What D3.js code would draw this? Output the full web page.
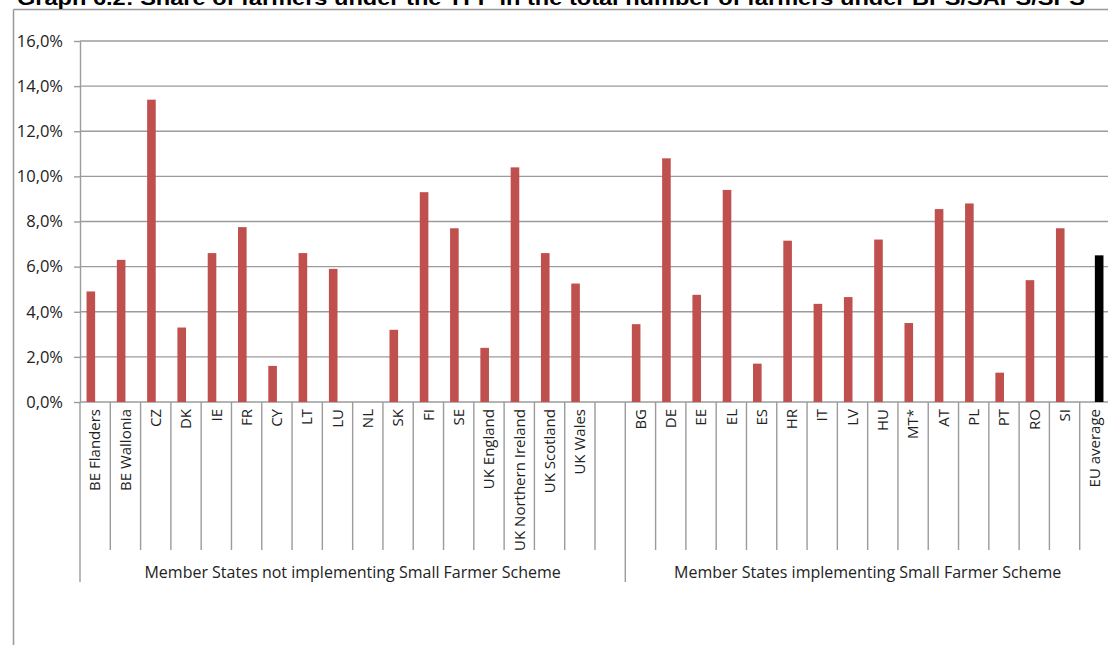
<!DOCTYPE html>
<html>
<head>
<meta charset="utf-8">
<script src="https://cdn.jsdelivr.net/npm/d3@7"></script>
<style>
  html, body { margin: 0; padding: 0; background: #fff; }
  svg { display: block; }
  text { font-family: "Open Sans", "DejaVu Sans", sans-serif; fill: #222; }
</style>
</head>
<body>
<svg id="chart" width="1108" height="645"></svg>
<script>
// Graph 6.2 – share of YFP farmers among farmers under BPS/SAPS/SPS (%)
const titleText = "Graph 6.2: Share of farmers under the YFP in the total number of farmers under BPS/SAPS/SPS";

// Member States not implementing the Small Farmer Scheme (last slot left empty as a spacer)
const groupNotSFS = ["BE Flanders", "BE Wallonia", "CZ", "DK", "IE", "FR", "CY", "LT", "LU", "NL",
  "SK", "FI", "SE", "UK England", "UK Northern Ireland", "UK Scotland", "UK Wales", ""];
const valuesNotSFS = [4.9, 6.3, 13.4, 3.3, 6.6, 7.75, 1.6, 6.6, 5.9, 0,
  3.2, 9.3, 7.7, 2.4, 10.4, 6.6, 5.25, null];

// Member States implementing the Small Farmer Scheme
const groupSFS = ["BG", "DE", "EE", "EL", "ES", "HR", "IT", "LV", "HU", "MT*",
  "AT", "PL", "PT", "RO", "SI", "EU average"];
const valuesSFS = [3.45, 10.8, 4.75, 9.4, 1.7, 7.15, 4.35, 4.65, 7.2, 3.5,
  8.55, 8.8, 1.3, 5.4, 7.7, null];

// EU average, drawn as its own series
const euAverageLabel = "EU average";
const euAverageValue = 6.5;

const groupLabels = ["Member States not implementing Small Farmer Scheme",
  "Member States implementing Small Farmer Scheme"];
const yTicks = [0, 2, 4, 6, 8, 10, 12, 14, 16];

// ---- layout ----
const svg = d3.select("#chart");
const plotLeft = 80, plotRight = 1110, plotTop = 41, plotBottom = 402;
const sepShortEnd = 550, sepLongEnd = 582;
const gridColor = "#9b9b9b";

const categories = groupNotSFS.map((c, i) => ({ key: "a" + i, label: c, group: 0, share: valuesNotSFS[i], avg: null }))
  .concat(groupSFS.map((c, i) => ({ key: "b" + i, label: c, group: 1, share: valuesSFS[i],
    avg: c === euAverageLabel ? euAverageValue : null })));

const x = d3.scaleBand().domain(categories.map(d => d.key)).range([plotLeft, plotRight]).padding(0);
const xSeries = d3.scaleBand().domain(["share", "avg"]).range([0, x.bandwidth()]).paddingInner(0).paddingOuter(0.76);
const y = d3.scaleLinear().domain([0, 16]).range([plotBottom, plotTop]);
const fmtPct = d => d.toFixed(1).replace(".", ",") + "%";

// outer frame
svg.append("line").attr("x1", 13.5).attr("x2", 1108).attr("y1", 9.5).attr("y2", 9.5)
  .attr("stroke", "#999").attr("stroke-width", 1.5);
svg.append("line").attr("x1", 13.5).attr("x2", 13.5).attr("y1", 9.5).attr("y2", 645)
  .attr("stroke", "#999").attr("stroke-width", 1.5);

// title (sits above the frame)
svg.append("text").attr("x", 17).attr("y", 5)
  .attr("textLength", 1068).attr("lengthAdjust", "spacingAndGlyphs")
  .style("font-family", "'Liberation Sans', Arial, sans-serif")
  .style("font-weight", "bold").style("font-size", "20px").style("fill", "#000")
  .text(titleText);

// horizontal gridlines
svg.append("g").selectAll("line").data(yTicks).join("line")
  .attr("x1", plotLeft).attr("x2", 1108)
  .attr("y1", d => y(d)).attr("y2", d => y(d))
  .attr("stroke", gridColor).attr("stroke-width", 1.4);

// y axis: line and tick marks from the axis generator, labels set explicitly
const yAxis = d3.axisLeft(y).tickValues(yTicks).tickSize(6).tickSizeOuter(0).tickFormat("");
const gy = svg.append("g").attr("transform", `translate(${plotLeft},0)`).call(yAxis);
gy.select(".domain").attr("stroke", gridColor).attr("stroke-width", 1.4);
gy.selectAll(".tick line").attr("stroke", gridColor).attr("stroke-width", 1.4);
svg.append("g").selectAll("text").data(yTicks).join("text")
  .attr("x", 63).attr("y", d => y(d)).attr("dy", "0.35em")
  .attr("text-anchor", "end")
  .attr("font-size", 16.5).style("font-size", "16.5px")
  .text(fmtPct);

// category separators below the axis
const boundaries = categories.map(d => ({ x: x(d.key), long: false }));
boundaries[0].long = true;
const firstSFS = categories.findIndex(d => d.group === 1);
boundaries[firstSFS].long = true;
boundaries.push({ x: x(categories[categories.length - 1].key) + x.bandwidth(), long: true });
svg.append("g").selectAll("line").data(boundaries).join("line")
  .attr("x1", d => d.x).attr("x2", d => d.x)
  .attr("y1", plotBottom).attr("y2", d => d.long ? sepLongEnd : sepShortEnd)
  .attr("stroke", gridColor).attr("stroke-width", 1.4);

// bars
const bars = svg.append("g");
bars.selectAll("rect.share").data(categories.filter(d => d.share != null)).join("rect")
  .attr("class", "share")
  .attr("x", d => x(d.key) + xSeries("share"))
  .attr("width", xSeries.bandwidth())
  .attr("y", d => y(d.share))
  .attr("height", d => y(0) - y(d.share))
  .attr("fill", "#c0504d");
bars.selectAll("rect.avg").data(categories.filter(d => d.avg != null)).join("rect")
  .attr("class", "avg")
  .attr("x", d => x(d.key) + xSeries("avg"))
  .attr("width", xSeries.bandwidth())
  .attr("y", d => y(d.avg))
  .attr("height", d => y(0) - y(d.avg))
  .attr("fill", "#000");

// rotated category labels
svg.append("g").selectAll("text").data(categories).join("text")
  .attr("transform", d => `translate(${x(d.key) + x.bandwidth() / 2},409) rotate(-90)`)
  .attr("text-anchor", "end").attr("dy", "0.35em")
  .style("font-size", "15px")
  .text(d => d.label);

// group labels
const groupSpans = [0, 1].map(g => {
  const cs = categories.filter(d => d.group === g);
  return { label: groupLabels[g], x0: x(cs[0].key), x1: x(cs[cs.length - 1].key) + x.bandwidth() };
});
svg.append("g").selectAll("text").data(groupSpans).join("text")
  .attr("x", d => (d.x0 + d.x1) / 2).attr("y", 572).attr("dy", "0.35em")
  .attr("text-anchor", "middle").style("font-size", "16px")
  .text(d => d.label);
</script>
</body>
</html>
